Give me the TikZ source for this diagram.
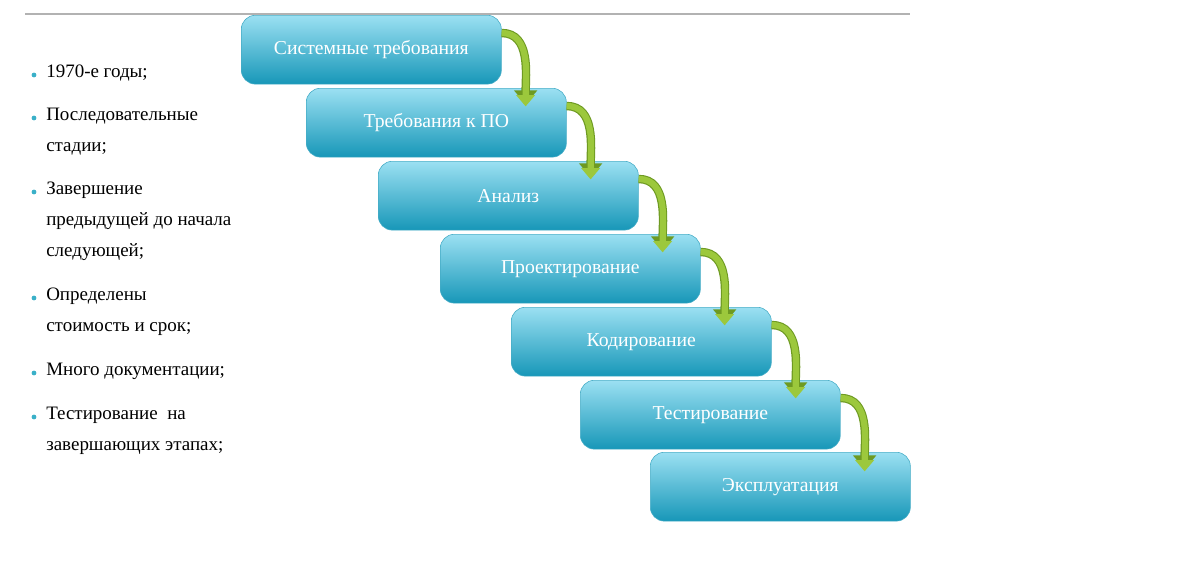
\documentclass[tikz,border=0pt]{standalone}
\usepackage{fontspec}
\setmainfont{Liberation Serif}
\usetikzlibrary{arrows.meta}
\definecolor{boxtop}{HTML}{9BE0F2}
\definecolor{boxbot}{HTML}{1797B8}
\definecolor{bullet}{HTML}{3AB0C8}
\definecolor{arrowgreen}{HTML}{9CC83C}
\definecolor{arrowedge}{HTML}{6E9A22}

\begin{document}
\begin{tikzpicture}[x=0.025cm,y=-0.025cm,
    stagebox/.style={rounded corners=10pt,top color=boxtop,bottom color=boxbot,
        draw=boxbot!80!white,line width=0.4pt,minimum width=6.5cm,minimum height=1.72cm,
        text=white,font=\fontsize{14}{16}\selectfont,anchor=north west},
    flowarrow/.style={draw=arrowedge,line width=6pt,-{Triangle[length=10pt,width=16pt]}},
    flowinner/.style={draw=arrowgreen,line width=4.4pt,-{Triangle[length=8pt,width=13pt]}},
    bulletitem/.style={anchor=north west,align=left,font=\fontsize{13.5}{22}\selectfont,inner sep=0pt}]
        \useasboundingbox (0,0) rectangle (1200,587);
        \draw[gray!60,line width=0.8pt] (25,14) -- (910,14);

        \node[stagebox] (s1) at (241,15)  {Системные требования};
        \node[stagebox] (s2) at (306,88)  {Требования к ПО};
        \node[stagebox] (s3) at (378,161) {Анализ};
        \node[stagebox] (s4) at (440,234) {Проектирование};
        \node[stagebox] (s5) at (511,307) {Кодирование};
        \node[stagebox] (s6) at (580,380) {Тестирование};
        \node[stagebox] (s7) at (650,452) {Эксплуатация};

        \foreach \a/\b in {s1/s2,s2/s3,s3/s4,s4/s5,s5/s6,s6/s7} {
            \coordinate (p) at ([yshift=-0.45cm]\a.north east);
            \coordinate (q) at ([xshift=0.6cm,yshift=-0.2cm]\b.north east -| \a.east);
            \draw[flowarrow] (p) to[out=0,in=90] ([xshift=0.6cm,yshift=-0.5cm]\a.south east);
            \draw[flowinner] (p) to[out=0,in=90] ([xshift=0.6cm,yshift=-0.55cm]\a.south east);
        }

        \foreach \y/\t in {65/{1970-е годы;},108/{Последовательные\\стадии;},
                          182/{Завершение\\предыдущей до начала\\следующей;},
                          288/{Определены\\стоимость и срок;},363/{Много документации;},
                          407/{Тестирование~ на\\завершающих этапах;}} {
            \node[bulletitem] at (46,\y) {\t};
            \fill[bullet] (34,\y+10) circle (2.4);
        }
\end{tikzpicture}
\end{document}
